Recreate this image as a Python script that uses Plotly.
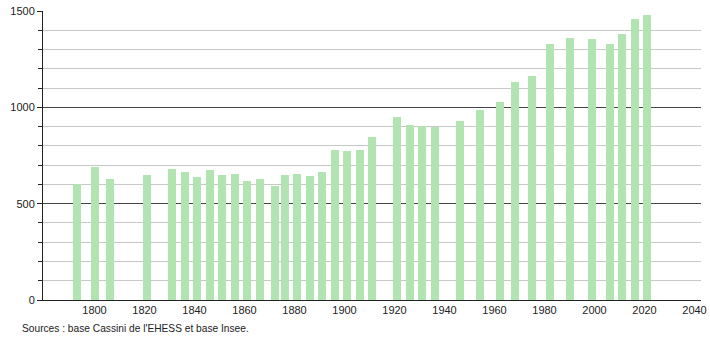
import plotly.graph_objects as go

years = [1793, 1800, 1806, 1821, 1831, 1836, 1841, 1846, 1851, 1856, 1861, 1866,
         1872, 1876, 1881, 1886, 1891, 1896, 1901, 1906, 1911, 1921, 1926, 1931,
         1936, 1946, 1954, 1962, 1968, 1975, 1982, 1990, 1999, 2006, 2011, 2016, 2021]
population = [602, 689, 628, 649, 680, 666, 640, 675, 649, 654, 618, 631,
              592, 647, 652, 643, 666, 778, 773, 778, 847, 948, 908, 903,
              899, 930, 986, 1027, 1131, 1162, 1332, 1363, 1358, 1332, 1384, 1462, 1482]
x_ticks = [1800, 1820, 1840, 1860, 1880, 1900, 1920, 1940, 1960, 1980, 2000, 2020, 2040]
y_ticks = [0, 500, 1000, 1500]
source_text = "Sources : base Cassini de l'EHESS et base Insee."

fig = go.Figure()
fig.add_trace(go.Bar(
    x=years, y=population, width=3.2,
    marker=dict(color="#b1e4b1", line=dict(width=0)),
))

font = dict(family="Liberation Sans, Arial, sans-serif", size=11, color="#222222")

fig.update_layout(
    width=710, height=340,
    margin=dict(l=43, r=9, t=11, b=40),
    paper_bgcolor="white", plot_bgcolor="white",
    showlegend=False, font=font, bargap=0,
    xaxis=dict(
        range=[1779.4, 2042.6], tickvals=x_ticks, ticktext=[str(v) for v in x_ticks],
        showgrid=False, zeroline=False, showline=True, linecolor="#222222", linewidth=1,
        ticks="", tickfont=font, automargin=False,
    ),
    yaxis=dict(
        range=[0, 1501], tickvals=y_ticks, ticktext=[str(v) for v in y_ticks],
        showgrid=True, gridcolor="#444444", gridwidth=1,
        zeroline=False, showline=True, linecolor="#222222", linewidth=1,
        ticks="outside", ticklen=5, tickcolor="#222222", tickfont=font, automargin=False,
        minor=dict(dtick=100, tick0=0, showgrid=True, gridcolor="#c8c8c8", gridwidth=1,
                   ticks="outside", ticklen=4, tickcolor="#222222"),
    ),
    annotations=[dict(
        text=source_text, xref="paper", yref="paper", x=-0.035, y=-0.1,
        xanchor="left", yanchor="middle", showarrow=False,
        font=dict(size=10.2, family=font["family"], color="#222222"),
    )],
)

fig.write_html("out.html")
